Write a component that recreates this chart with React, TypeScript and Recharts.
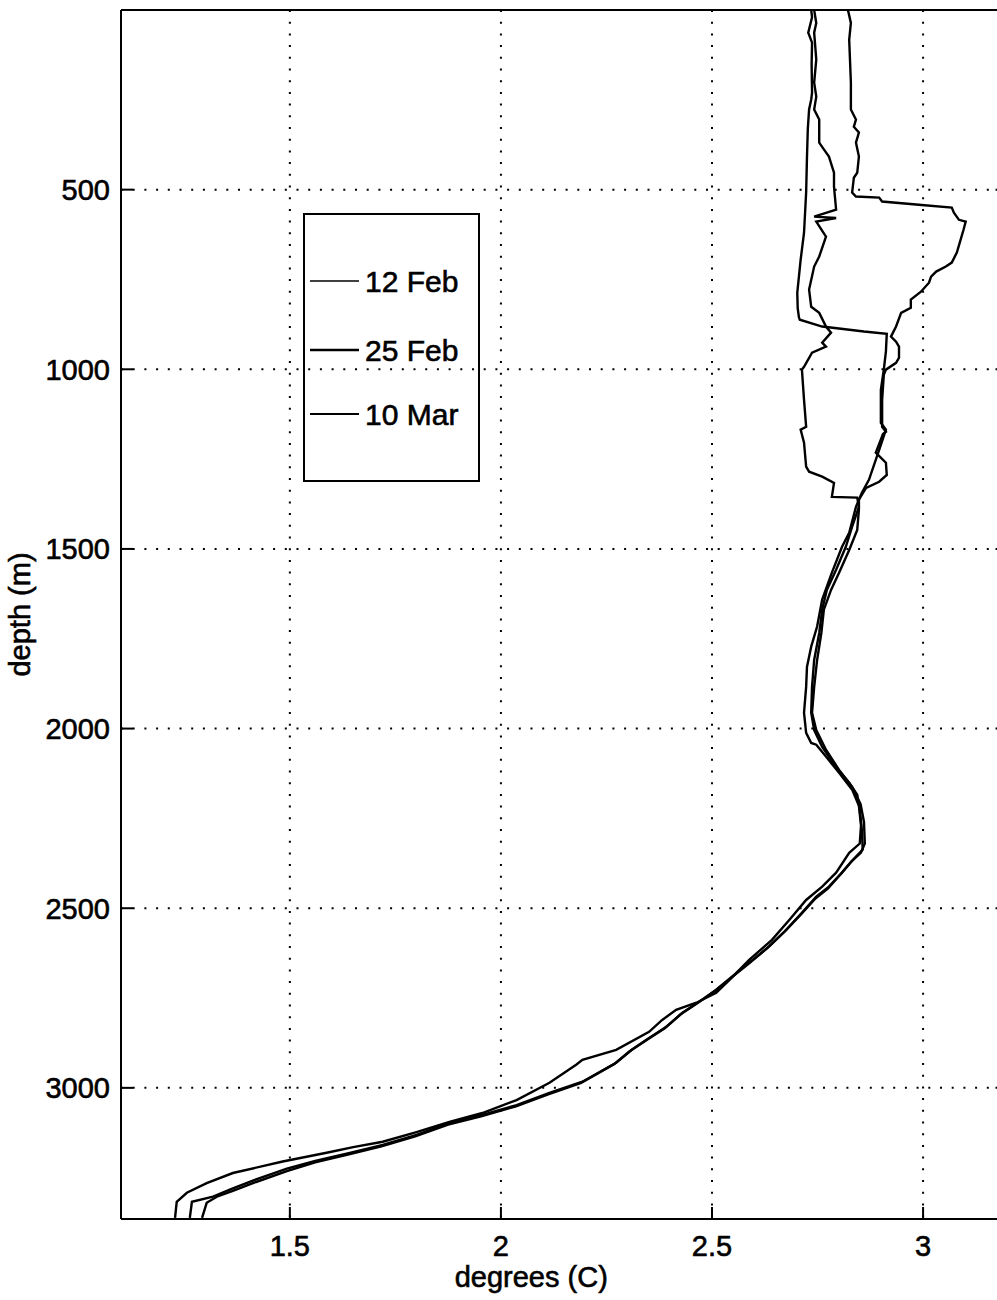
import React from 'react';
import { ScatterChart, Scatter, XAxis, YAxis, CartesianGrid, Label } from 'recharts';

// [temperature (deg C), depth (m)] along each cast
const feb12: [number, number][] = [
  [2.735, 0], [2.737, 20], [2.728, 63], [2.737, 91], [2.736, 150], [2.737, 230], [2.735, 249],
  [2.730, 277], [2.727, 330], [2.725, 408], [2.723, 508], [2.718, 620], [2.710, 695], [2.702, 787],
  [2.703, 830], [2.706, 856], [2.708, 862], [2.761, 881], [2.860, 895], [2.914, 901], [2.912, 950],
  [2.907, 1001], [2.900, 1057], [2.900, 1149], [2.912, 1168], [2.896, 1224], [2.872, 1307],
  [2.855, 1344], [2.841, 1383], [2.825, 1455], [2.808, 1494], [2.784, 1566], [2.761, 1641],
  [2.749, 1716], [2.735, 1772], [2.725, 1828], [2.723, 1884], [2.718, 1956], [2.723, 2012],
  [2.735, 2040], [2.747, 2045], [2.770, 2078], [2.801, 2123], [2.832, 2170], [2.848, 2215],
  [2.853, 2270], [2.850, 2320], [2.825, 2346], [2.794, 2401], [2.761, 2440], [2.723, 2477],
  [2.683, 2533], [2.642, 2588], [2.588, 2644], [2.541, 2700], [2.510, 2735], [2.463, 2763],
  [2.415, 2783], [2.382, 2811], [2.351, 2844], [2.273, 2894], [2.193, 2922], [2.179, 2935],
  [2.115, 2986], [2.037, 3034], [1.956, 3070], [1.878, 3095], [1.800, 3123], [1.720, 3150],
  [1.650, 3165], [1.590, 3180], [1.483, 3205], [1.365, 3237], [1.303, 3265], [1.256, 3292],
  [1.232, 3317], [1.228, 3362],
];

const feb25: [number, number][] = [
  [2.742, 0], [2.747, 36], [2.742, 63], [2.747, 138], [2.742, 202], [2.747, 241], [2.742, 277],
  [2.754, 305], [2.754, 369], [2.765, 388], [2.777, 408], [2.789, 453], [2.789, 492], [2.794, 556],
  [2.742, 575], [2.794, 579], [2.747, 589], [2.770, 631], [2.754, 686], [2.742, 714], [2.730, 778],
  [2.735, 826], [2.754, 843], [2.770, 881], [2.782, 898], [2.761, 926], [2.770, 937], [2.737, 954],
  [2.718, 993], [2.713, 1001], [2.718, 1085], [2.723, 1160], [2.710, 1168], [2.718, 1204],
  [2.723, 1271], [2.730, 1285], [2.761, 1299], [2.789, 1316], [2.784, 1355], [2.844, 1357],
  [2.848, 1383], [2.832, 1438], [2.817, 1494], [2.794, 1558], [2.772, 1614], [2.761, 1669],
  [2.754, 1734], [2.742, 1809], [2.737, 1884], [2.735, 1956], [2.742, 2004], [2.761, 2051],
  [2.794, 2107], [2.825, 2151], [2.844, 2184], [2.850, 2226], [2.855, 2282], [2.857, 2337],
  [2.834, 2365], [2.808, 2401], [2.777, 2440], [2.747, 2468], [2.713, 2513], [2.676, 2560],
  [2.635, 2607], [2.588, 2652], [2.548, 2690], [2.510, 2727], [2.470, 2760], [2.430, 2791],
  [2.392, 2830], [2.351, 2861], [2.310, 2894], [2.273, 2930], [2.193, 2983], [2.115, 3014],
  [2.037, 3048], [1.956, 3075], [1.878, 3098], [1.800, 3131], [1.720, 3159], [1.642, 3181],
  [1.560, 3203], [1.493, 3225], [1.420, 3255], [1.365, 3280], [1.318, 3303], [1.268, 3317],
  [1.263, 3362],
];

const mar10: [number, number][] = [
  [2.822, 0], [2.829, 36], [2.825, 83], [2.829, 202], [2.829, 277], [2.841, 305], [2.836, 325],
  [2.848, 341], [2.841, 369], [2.848, 408], [2.844, 453], [2.836, 467], [2.832, 508], [2.841, 519],
  [2.896, 522], [2.903, 533], [2.990, 542], [3.068, 550], [3.073, 564], [3.085, 584], [3.101, 589],
  [3.096, 611], [3.089, 639], [3.080, 675], [3.068, 703], [3.054, 714], [3.031, 728], [3.019, 742],
  [3.014, 759], [2.995, 784], [2.971, 806], [2.971, 829], [2.948, 843], [2.936, 881], [2.924, 909],
  [2.936, 923], [2.943, 937], [2.943, 968], [2.936, 982], [2.912, 1001], [2.907, 1015],
  [2.903, 1085], [2.903, 1160], [2.912, 1174], [2.905, 1180], [2.888, 1232], [2.912, 1260],
  [2.914, 1294], [2.896, 1313], [2.865, 1330], [2.848, 1363], [2.848, 1391], [2.844, 1447],
  [2.825, 1503], [2.801, 1566], [2.782, 1614], [2.765, 1669], [2.759, 1734], [2.749, 1809],
  [2.742, 1884], [2.737, 1956], [2.747, 2004], [2.770, 2059], [2.801, 2115], [2.832, 2162],
  [2.852, 2210], [2.860, 2260], [2.862, 2320], [2.853, 2345], [2.830, 2370], [2.805, 2405],
  [2.775, 2445], [2.745, 2473], [2.710, 2518], [2.672, 2565], [2.630, 2612], [2.585, 2656],
  [2.545, 2694], [2.505, 2732], [2.466, 2764], [2.425, 2796], [2.388, 2834], [2.348, 2865],
  [2.305, 2898], [2.268, 2934], [2.190, 2986], [2.112, 3018], [2.034, 3052], [1.953, 3079],
  [1.875, 3102], [1.797, 3135], [1.717, 3163], [1.640, 3185], [1.560, 3207], [1.493, 3232],
  [1.420, 3262], [1.365, 3287], [1.327, 3303], [1.303, 3320], [1.292, 3362],
];

const castNames = ['12 Feb', '25 Feb', '10 Mar'];
const casts = [feb12, feb25, mar10];
const legendStroke = [1.3, 2.6, 1.8];

const tempTicks = [1.5, 2, 2.5, 3];
const depthTicks = [500, 1000, 1500, 2000, 2500, 3000];

const FONT = '"Liberation Sans", Arial, Helvetica, sans-serif';
const textInk = { fill: '#000', stroke: '#000', strokeWidth: 0.6, fontSize: 29, fontFamily: FONT };
const axisLine = { stroke: '#000', strokeWidth: 2 };

const toPoints = (rows: [number, number][]) => rows.map(([t, d]) => ({ t, d }));

const NoDot = () => <g />;
const NoTick = () => <g />;

const CastLegend = () => (
  <svg
    width={177}
    height={269}
    style={{ position: 'absolute', left: 303, top: 213, overflow: 'visible' }}
  >
    <rect x={1} y={1} width={175} height={267} fill="none" stroke="#000" strokeWidth={2} />
    {castNames.map((name, i) => {
      const y = [68, 137, 201][i];
      return (
        <g key={name}>
          <line x1={7} x2={56} y1={y} y2={y} stroke="#000" strokeWidth={legendStroke[i]} />
          <text
            x={62}
            y={y}
            dominantBaseline="central"
            fontSize={30}
            fontFamily={FONT}
            fill="#000"
            stroke="#000"
            strokeWidth={0.6}
          >
            {name}
          </text>
        </g>
      );
    })}
  </svg>
);

export default function App() {
  return (
    <div
      style={{
        position: 'absolute',
        left: 0,
        top: 0,
        width: 997,
        height: 1300,
        overflow: 'hidden',
        background: '#fff',
      }}
    >
      <ScatterChart width={1020} height={1300} margin={{ top: 9, right: 11.5, bottom: 11, left: 10 }}>
        <CartesianGrid stroke="#000" strokeWidth={2} strokeDasharray="2 9.7" />
        <XAxis
          type="number"
          dataKey="t"
          domain={[1.1, 3.2]}
          ticks={tempTicks}
          allowDataOverflow
          height={70}
          axisLine={axisLine}
          tickLine={axisLine}
          tickSize={-12}
          tickMargin={28}
          tick={textInk}
          interval={0}
        >
          <Label value="degrees (C)" position="insideBottom" offset={2} dx={-33} style={textInk} />
        </XAxis>
        <XAxis
          xAxisId="top"
          orientation="top"
          type="number"
          domain={[1.1, 3.2]}
          ticks={tempTicks}
          allowDataOverflow
          height={1}
          axisLine={axisLine}
          tickLine={axisLine}
          tickSize={-12}
          tick={NoTick}
          interval={0}
        />
        <YAxis
          type="number"
          dataKey="d"
          domain={[0, 3365]}
          reversed
          ticks={depthTicks}
          allowDataOverflow
          width={111}
          axisLine={axisLine}
          tickLine={axisLine}
          tickSize={-12}
          tickMargin={23}
          tick={textInk}
          interval={0}
        >
          <Label
            value="depth (m)"
            angle={-90}
            position="insideLeft"
            offset={10}
            style={{ ...textInk, textAnchor: 'middle' }}
          />
        </YAxis>
        <YAxis
          yAxisId="right"
          orientation="right"
          type="number"
          domain={[0, 3365]}
          reversed
          ticks={depthTicks}
          allowDataOverflow
          width={1}
          axisLine={axisLine}
          tickLine={axisLine}
          tickSize={-12}
          tick={NoTick}
          interval={0}
        />
        {casts.map((rows, i) => (
          <Scatter
            key={castNames[i]}
            name={castNames[i]}
            data={toPoints(rows)}
            fill="#000"
            line={{ stroke: '#000', strokeWidth: 2.4 }}
            shape={NoDot}
            isAnimationActive={false}
          />
        ))}
      </ScatterChart>
      <CastLegend />
    </div>
  );
}
